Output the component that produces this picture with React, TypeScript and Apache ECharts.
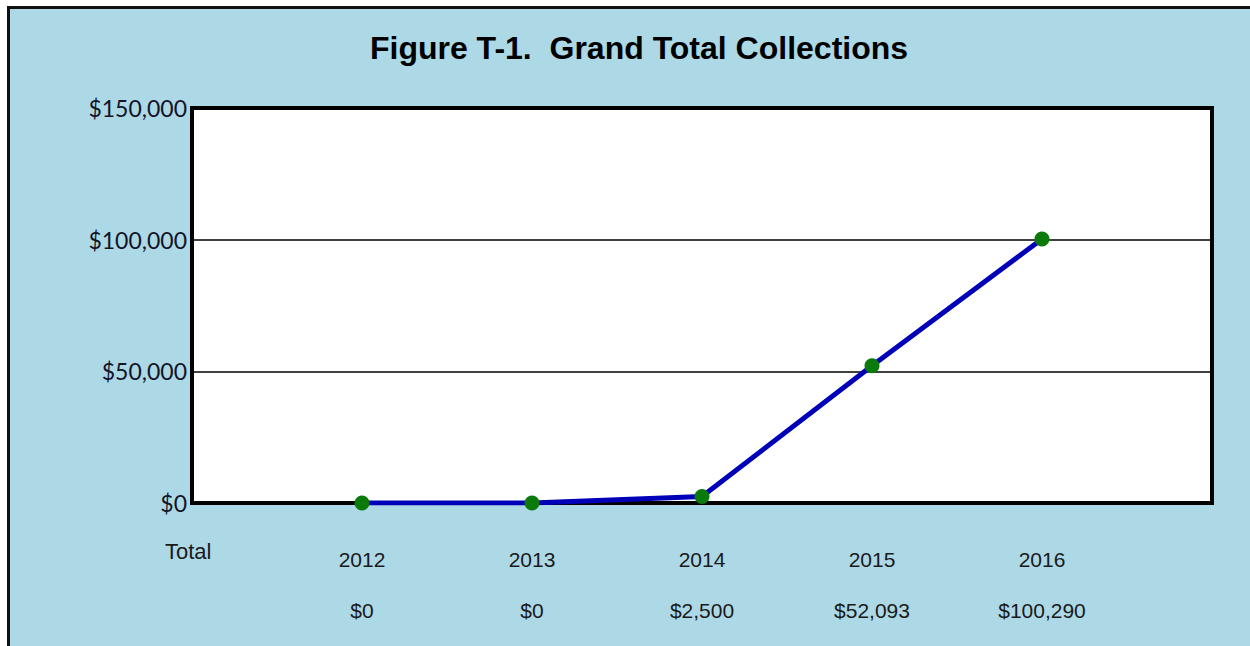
import React, { useEffect, useRef } from "react";
import * as echarts from "echarts";

const categories = ["Total", "2012", "2013", "2014", "2015", "2016", ""];
const years = ["2012", "2013", "2014", "2015", "2016"];
const totals = [0, 0, 2500, 52093, 100290];
const yTicks = [0, 50000, 100000, 150000];
const titleText = "Figure T-1.  Grand Total Collections";
const rowHeader = "Total";

const fmtMoney = (v: number) => "$" + v.toLocaleString("en-US");

export default function App() {
  const ref = useRef<HTMLDivElement>(null);
  useEffect(() => {
    if (!ref.current) return;
    const chart = echarts.init(ref.current, null, { renderer: "svg" });
    const seriesData: (number | null)[] = categories.map((c) => {
      const i = years.indexOf(c);
      return i >= 0 ? totals[i] : null;
    });
    const valueLabels = categories.map((c) => {
      const i = years.indexOf(c);
      return i >= 0 ? fmtMoney(totals[i]) : "";
    });
    chart.setOption({
      animation: false,
      backgroundColor: "transparent",
      title: {
        text: titleText,
        left: 634,
        top: 27,
        textAlign: "center",
        textStyle: {
          fontFamily: "Liberation Sans, Arial, sans-serif",
          fontWeight: "bold",
          fontSize: 32,
          color: "#000",
        },
      },
      graphic: [
        {
          type: "text",
          left: 165,
          top: 540,
          style: {
            text: rowHeader,
            fontFamily: "Liberation Sans, Arial, sans-serif",
            fontSize: 22,
            fill: "#1a1a1a",
          },
        },
      ],
      grid: {
        left: 192,
        top: 108,
        right: 38,
        bottom: 143,
        show: true,
        backgroundColor: "#ffffff",
        borderColor: "#000",
        borderWidth: 4,
        z: 0,
      },
      xAxis: [
        {
          type: "category",
          data: categories,
          boundaryGap: false,
          axisLine: { show: false },
          axisTick: { show: false },
          splitLine: { show: false },
          axisLabel: {
            interval: 0,
            margin: 46,
            fontFamily: "Liberation Sans, Arial, sans-serif",
            fontSize: 21,
            color: "#1a1a1a",
            formatter: (v: string) => (years.includes(v) ? v : ""),
          },
        },
        {
          type: "category",
          data: categories,
          boundaryGap: false,
          position: "bottom",
          axisLine: { show: false },
          axisTick: { show: false },
          splitLine: { show: false },
          axisLabel: {
            interval: 0,
            margin: 97,
            fontFamily: "Liberation Sans, Arial, sans-serif",
            fontSize: 21,
            color: "#1a1a1a",
            formatter: (_v: string, idx: number) => valueLabels[idx],
          },
        },
      ],
      yAxis: {
        type: "value",
        min: yTicks[0],
        max: yTicks[yTicks.length - 1],
        interval: yTicks[1] - yTicks[0],
        axisLine: { show: false },
        axisTick: { show: false },
        splitLine: { show: true, lineStyle: { color: "#000", width: 1.5 } },
        axisLabel: {
          margin: 5,
          fontFamily: "Lato, Calibri, sans-serif",
          fontSize: 23,
          color: "#141428",
          formatter: (v: number) => fmtMoney(v),
        },
      },
      series: [
        {
          type: "line",
          xAxisIndex: 0,
          data: seriesData,
          connectNulls: false,
          lineStyle: { color: "#0000b8", width: 5 },
          itemStyle: { color: "#0a7a0a" },
          symbol: "circle",
          symbolSize: 15,
          showSymbol: true,
          z: 5,
        },
      ],
    });
    return () => chart.dispose();
  }, []);

  return (
    <div
      style={{
        position: "fixed",
        left: 0,
        top: 0,
        width: 1250,
        height: 646,
        background: "#ffffff",
        overflow: "hidden",
      }}
    >
      <div
        style={{
          position: "absolute",
          left: 7,
          top: 6,
          width: 1240,
          height: 637,
          borderTop: "3px solid #111",
          borderLeft: "3px solid #111",
          background: "#add8e6",
        }}
      />
      <div
        ref={ref}
        style={{ position: "absolute", left: 0, top: 0, width: 1250, height: 646 }}
      />
    </div>
  );
}
